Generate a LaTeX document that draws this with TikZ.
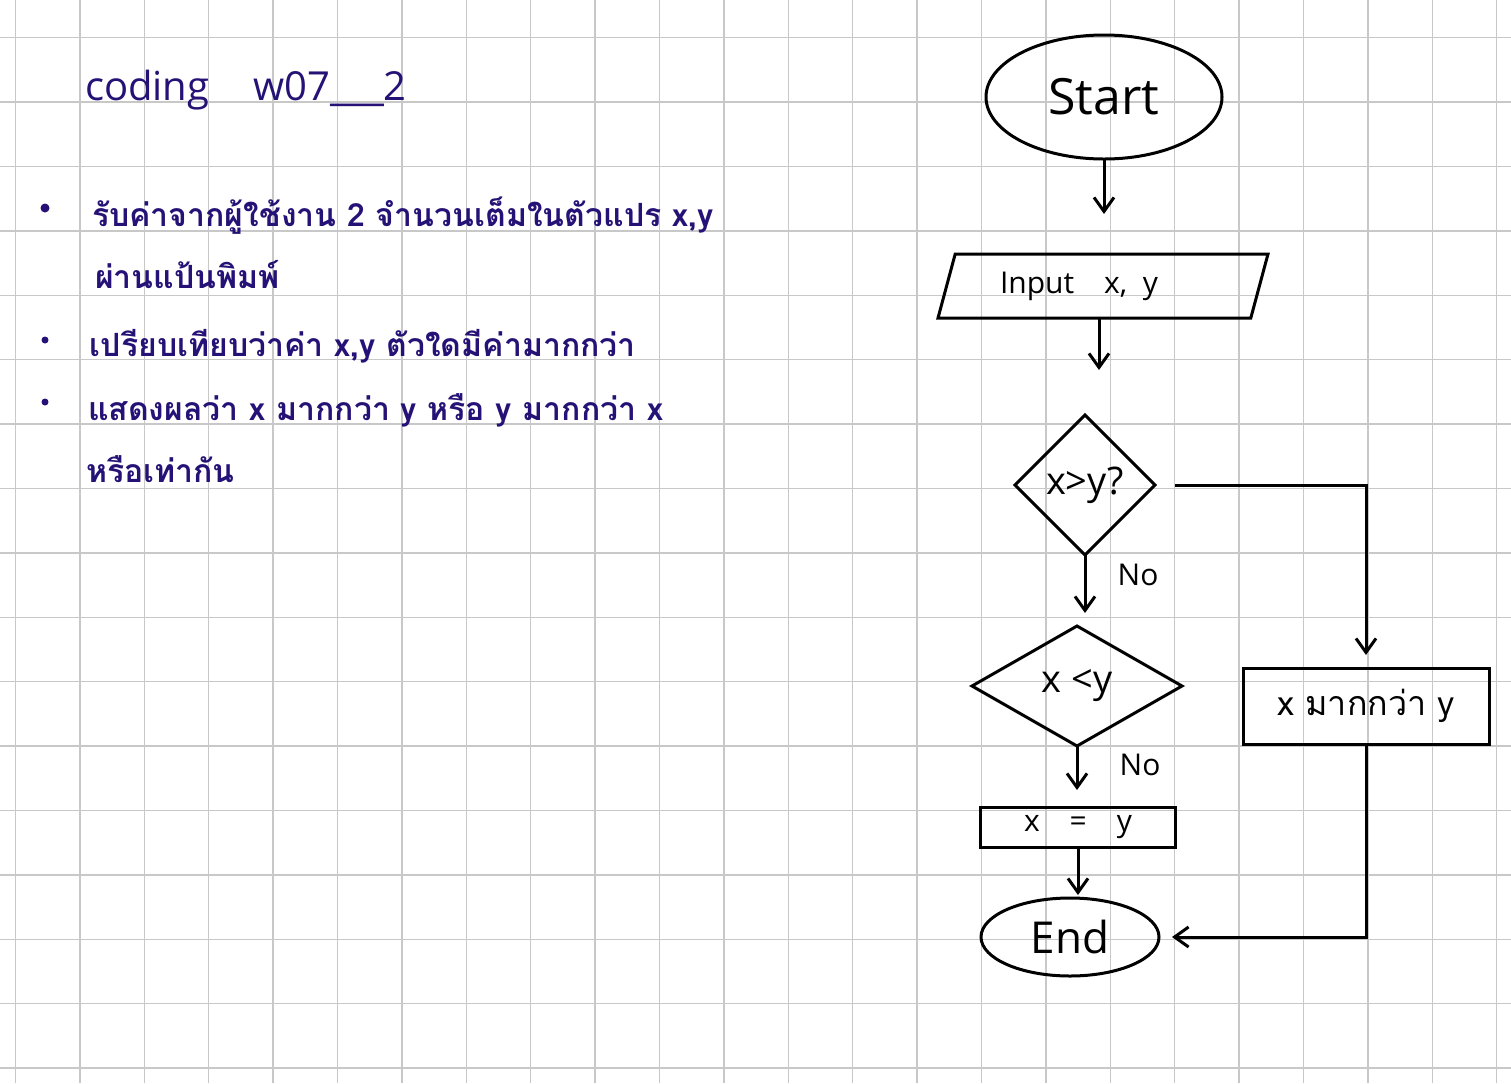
\documentclass[tikz,border=0pt]{standalone}
\usepackage{fontspec}
\setmainfont{Open Sans}
\newfontfamily\thaifont[Script=Thai]{Loma}
\usepackage{tikz}
\usetikzlibrary{arrows.meta, shapes.geometric}
\definecolor{ink}{RGB}{38,18,118}
\definecolor{gridgray}{RGB}{200,200,200}

\begin{document}
\begin{tikzpicture}[x=0.5pt,y=-0.5pt,line width=1.5pt,
        >={Straight Barb[length=7pt,width=10pt]},
        every node/.style={inner sep=0pt,outer sep=0pt},
        gridline/.style={draw=gridgray,line width=0.7pt},
        note/.style={anchor=base west,text=ink,font=\thaifont\bfseries\fontsize{16}{19}\selectfont},
        terminal/.style={draw,ellipse,line width=1.5pt},
        decision/.style={draw,diamond,line width=1.5pt},
        process/.style={draw,rectangle,line width=1.5pt},
        io/.style={draw,trapezium,trapezium left angle=59,trapezium right angle=121,
            trapezium stretches body,line width=1.5pt},
        flowtext/.style={font=\fontsize{15}{18}\selectfont}]

    % paper
    \fill[white] (0,0) rectangle (1511,1083);
    \useasboundingbox (0,0) rectangle (1511,1083);
    \foreach \i in {0,...,23}
        \draw[gridline] ({15.5+64.4*\i},0) -- ({15.5+64.4*\i},1083);
    \foreach \j in {0,...,16}
        \draw[gridline] (0,{37.7+64.4*\j}) -- (1511,{37.7+64.4*\j});

    % notes on the left
    \node[anchor=base west,text=ink,font=\fontsize{20}{24}\selectfont] (title) at (85,100) {coding\hspace{22pt}w07\_\_\_2};
    \fill[ink] (45,208) circle (4.5);
    \fill[ink] (45,340) circle (3.5);
    \fill[ink] (45,402) circle (3.5);
    \node[note] (line_1) at (92,226) {รับค่าจากผู้ใช้งาน 2 จำนวนเต็มในตัวแปร x,y};
    \node[note] (line_2) at (95,288) {ผ่านแป้นพิมพ์};
    \node[note] (line_3) at (90,356) {เปรียบเทียบว่าค่า x,y ตัวใดมีค่ามากกว่า};
    \node[note] (line_4) at (88,420) {แสดงผลว่า x มากกว่า y หรือ y มากกว่า x};
    \node[note] (line_5) at (86,482) {หรือเท่ากัน};

    % flowchart
    \node[terminal,minimum width=118pt,minimum height=62pt,font=\fontsize{25}{30}\selectfont] (start) at (1104,97) {Start};
    \node[io,flowtext,minimum width=165pt,minimum height=32pt] (inp) at (1103,286) {Input\quad x,\ \ y\hspace*{24pt}};
    \node[decision,minimum width=70pt,minimum height=70pt,font=\fontsize{19}{22}\selectfont] (d_1) at (1085,485) {x>y?};
    \node[decision,minimum width=105pt,minimum height=60pt,font=\fontsize{19}{22}\selectfont] (d_2) at (1077,686) {x <y};
    \node[process,minimum width=123pt,minimum height=38pt,font=\thaifont\fontsize{17}{20}\selectfont] (gt) at (1366,706) {x มากกว่า y};
    \node[process,minimum width=97.5pt,minimum height=20pt,flowtext] (eq) at (1078,827) {x\quad =\quad y};
    \node[terminal,minimum width=89pt,minimum height=39pt,font=\fontsize{22}{26}\selectfont] (end) at (1070,937) {End};
    \node[flowtext] (no_1) at (1138,575) {No};
    \node[flowtext] (no_2) at (1140,765) {No};

    \draw[->,shorten >=20pt] (start) -- (start.south |- inp.north);
    \draw[->,shorten >=21pt] (inp.south -| 1099,0) -- (1099,412);
    \draw[->,shorten >=6.5pt] (d_1.south) -- (d_1.south |- d_2.north);
    \draw[->,shorten >=8.5pt] (d_2.south) -- (d_2.south |- eq.north);
    \draw[->,shorten >=1.5pt] (eq.south) -- (eq.south |- end.north);
    \draw[->,shorten <=10pt,shorten >=6.5pt] (d_1.east) -| (gt.north);
    \draw[->,shorten >=6.5pt] (gt.south) |- (end.east);
\end{tikzpicture}
\end{document}
